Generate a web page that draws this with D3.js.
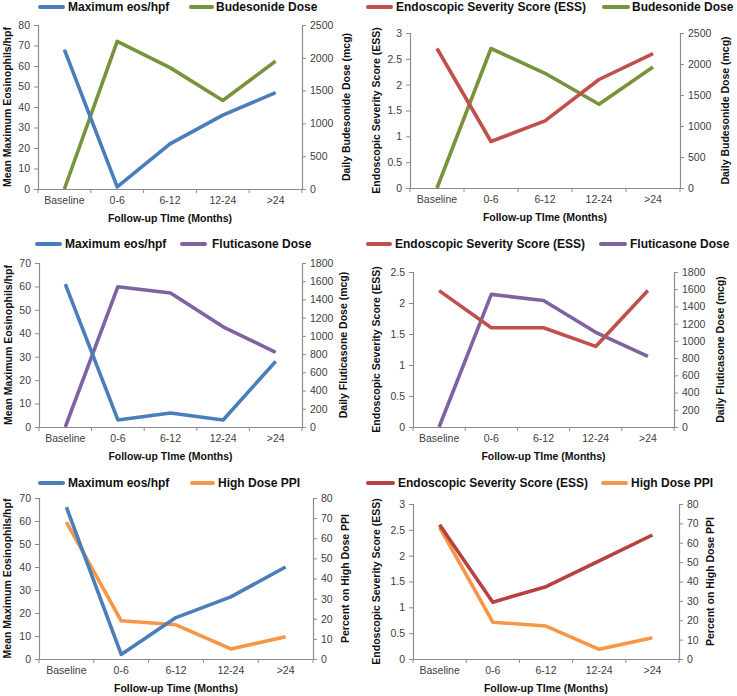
<!DOCTYPE html>
<html>
<head>
<meta charset="utf-8">
<script src="https://cdn.jsdelivr.net/npm/d3@7"></script>
<style>
  html, body { margin: 0; padding: 0; background: #ffffff; }
  svg { display: block; font-family: "Liberation Sans", Arial, sans-serif; }
</style>
</head>
<body>
<svg id="chart" width="737" height="696"></svg>
<script>
// ---------------- DATA ----------------
const categories = ["Baseline", "0-6", "6-12", "12-24", ">24"];

// Budesonide row
const eosBudesonide   = [68, 1, 22, 36, 47];
const budesonideDose  = [0, 2250, 1850, 1350, 1950];
const essBudesonide   = [2.7, 0.9, 1.3, 2.1, 2.6];

// Fluticasone row
const eosFluticasone  = [61, 3, 6, 3, 28];
const fluticasoneDose = [0, 1540, 1470, 1100, 820];
const essFluticasone  = [2.2, 1.6, 1.6, 1.3, 2.2];

// High dose PPI row
const eosPPI          = [66, 2, 18, 27, 40];
const ppiPercent      = [68, 19, 17, 5, 11];
const essPPI          = [2.6, 1.1, 1.4, 1.9, 2.4];

// Tick labels
const eosTicks80   = [0, 10, 20, 30, 40, 50, 60, 70, 80];
const eosTicks70   = [0, 10, 20, 30, 40, 50, 60, 70];
const essTicks3    = [0, 0.5, 1, 1.5, 2, 2.5, 3];
const essTicks25   = [0, 0.5, 1, 1.5, 2, 2.5];
const budTicks     = [0, 500, 1000, 1500, 2000, 2500];
const fluTicks     = [0, 200, 400, 600, 800, 1000, 1200, 1400, 1600, 1800];
const ppiTicks     = [0, 10, 20, 30, 40, 50, 60, 70, 80];

// Series names
const nameEos = "Maximum eos/hpf";
const nameEss = "Endoscopic Severity Score (ESS)";
const nameBud = "Budesonide Dose";
const nameFlu = "Fluticasone Dose";
const namePPI = "High Dose PPI";

// Axis titles
const titleEos = "Mean Maximum Eosinophils/hpf";
const titleEss = "Endoscopic Severity Score (ESS)";
const titleBud = "Daily Budesonide Dose (mcg)";
const titleFlu = "Daily Fluticasone Dose (mcg)";
const titlePPI = "Percent on High Dose PPI";
const xTitleA = "Follow-up TIme (Months)";
const xTitleB = "Follow-up Time (Months)";

// ---------------- STYLE ----------------
const C = {
  blue: "#4a7ebb",
  green: "#77933c",
  red: "#c0504d",
  darkred: "#b6413f",
  purple: "#7f63a1",
  orange: "#f79646",
  axis: "#8c8c8c",
  tick: "#404040"
};

const panels = [
  { box: {l: 38, r: 302, t: 25, b: 189}, left: eosBudesonide, right: budesonideDose,
    lTicks: eosTicks80, rTicks: budTicks, lColor: C.blue, rColor: C.green,
    lName: nameEos, rName: nameBud, lTitle: titleEos, rTitle: titleBud, xTitle: xTitleA,
    lTitleX: 7, rTitleX: 346, legendY: 7,
    leg: [{x1: 40, x2: 63, tx: 68}, {x1: 191, x2: 212, tx: 216}] },
  { box: {l: 410, r: 680, t: 33, b: 188}, left: essBudesonide, right: budesonideDose,
    lTicks: essTicks3, rTicks: budTicks, lColor: C.red, rColor: C.green,
    lName: nameEss, rName: nameBud, lTitle: titleEss, rTitle: titleBud, xTitle: xTitleA,
    lTitleX: 376, rTitleX: 725, legendY: 7,
    leg: [{x1: 368, x2: 391, tx: 396}, {x1: 604, x2: 628, tx: 632}] },
  { box: {l: 39, r: 302, t: 263, b: 427}, left: eosFluticasone, right: fluticasoneDose,
    lTicks: eosTicks70, rTicks: fluTicks, lColor: C.blue, rColor: C.purple,
    lName: nameEos, rName: nameFlu, lTitle: titleEos, rTitle: titleFlu, xTitle: xTitleA,
    lTitleX: 7.5, rTitleX: 343, legendY: 244,
    leg: [{x1: 37, x2: 60, tx: 65}, {x1: 182, x2: 205, tx: 212}] },
  { box: {l: 413, r: 674, t: 272, b: 427}, left: essFluticasone, right: fluticasoneDose,
    lTicks: essTicks25, rTicks: fluTicks, lColor: C.red, rColor: C.purple,
    lName: nameEss, rName: nameFlu, lTitle: titleEss, rTitle: titleFlu, xTitle: xTitleA,
    lTitleX: 376, rTitleX: 720, legendY: 244,
    leg: [{x1: 368, x2: 390, tx: 395}, {x1: 601, x2: 625, tx: 630}] },
  { box: {l: 39, r: 313, t: 498, b: 659}, left: eosPPI, right: ppiPercent,
    lTicks: eosTicks70, rTicks: ppiTicks, lColor: C.blue, rColor: C.orange,
    lName: nameEos, rName: namePPI, lTitle: titleEos, rTitle: titlePPI, xTitle: xTitleB,
    lTitleX: 7, rTitleX: 345, legendY: 483,
    leg: [{x1: 40, x2: 63, tx: 68}, {x1: 192, x2: 213, tx: 218}] },
  { box: {l: 413, r: 679, t: 504, b: 659}, left: essPPI, right: ppiPercent,
    lTicks: essTicks3, rTicks: ppiTicks, lColor: C.darkred, rColor: C.orange,
    lName: nameEss, rName: namePPI, lTitle: titleEss, rTitle: titlePPI, xTitle: xTitleA,
    lTitleX: 376, rTitleX: 710, legendY: 483,
    leg: [{x1: 368, x2: 393, tx: 398}, {x1: 603, x2: 626, tx: 631}] }
];

const svg = d3.select("#chart");

panels.forEach(p => {
  const g = svg.append("g");
  const {l, r, t, b} = p.box;

  const x = d3.scaleBand().domain(categories).range([l, r]);
  const yL = d3.scaleLinear().domain([0, d3.max(p.lTicks)]).range([b, t]);
  const yR = d3.scaleLinear().domain([0, d3.max(p.rTicks)]).range([b, t]);

  // x axis
  const xAxis = g.append("g").attr("transform", `translate(0,${b})`)
    .call(d3.axisBottom(x).tickSize(0).tickPadding(8));
  xAxis.select(".domain").attr("stroke", C.axis).attr("stroke-width", 1.2);
  xAxis.selectAll("text").attr("fill", C.tick).style("font-size", "10.5px")
    .style("font-family", "'Liberation Sans', Arial, sans-serif");
  // band boundary ticks
  const bounds = categories.map(c => x(c)).concat([x(categories[categories.length - 1]) + x.bandwidth()]);
  g.selectAll(".xb").data(bounds).enter().append("line")
    .attr("x1", d => d).attr("x2", d => d).attr("y1", b).attr("y2", b + 4)
    .attr("stroke", C.axis).attr("stroke-width", 1);

  // left axis
  const la = g.append("g").attr("transform", `translate(${l},0)`)
    .call(d3.axisLeft(yL).tickValues(p.lTicks).tickSize(4).tickPadding(4).tickFormat(d3.format("~g")));
  la.select(".domain").attr("stroke", C.axis).attr("stroke-width", 1.2);
  la.selectAll(".tick line").attr("stroke", C.axis);
  la.selectAll("text").attr("fill", C.tick).style("font-size", "10.5px");

  // right axis
  const ra = g.append("g").attr("transform", `translate(${r},0)`)
    .call(d3.axisRight(yR).tickValues(p.rTicks).tickSize(4).tickPadding(4).tickFormat(d3.format("~g")));
  ra.select(".domain").attr("stroke", C.axis).attr("stroke-width", 1.2);
  ra.selectAll(".tick line").attr("stroke", C.axis);
  ra.selectAll("text").attr("fill", C.tick).style("font-size", "10.5px");

  const cx = d => x(d) + x.bandwidth() / 2;

  // lines
  const lineL = d3.line().x((d, i) => cx(categories[i])).y(d => yL(d));
  const lineR = d3.line().x((d, i) => cx(categories[i])).y(d => yR(d));

  g.append("path").datum(p.right).attr("d", lineR)
    .attr("fill", "none").attr("stroke", p.rColor).attr("stroke-width", 3.6)
    .attr("stroke-linejoin", "round");
  g.append("path").datum(p.left).attr("d", lineL)
    .attr("fill", "none").attr("stroke", p.lColor).attr("stroke-width", 3.6)
    .attr("stroke-linejoin", "round");

  // axis titles
  const midY = (t + b) / 2;
  g.append("text").attr("transform", `translate(${p.lTitleX},${midY}) rotate(-90)`)
    .attr("text-anchor", "middle").attr("dominant-baseline", "central")
    .style("font-size", "10.5px").style("font-weight", "bold").attr("fill", "#111")
    .text(p.lTitle);
  g.append("text").attr("transform", `translate(${p.rTitleX},${midY}) rotate(-90)`)
    .attr("text-anchor", "middle").attr("dominant-baseline", "central")
    .style("font-size", "10.5px").style("font-weight", "bold").attr("fill", "#111")
    .text(p.rTitle);
  g.append("text").attr("x", (l + r) / 2).attr("y", b + 33)
    .attr("text-anchor", "middle")
    .style("font-size", "10.5px").style("font-weight", "bold").attr("fill", "#111")
    .text(p.xTitle);

  // legend
  const legItems = [{name: p.lName, color: p.lColor}, {name: p.rName, color: p.rColor}];
  legItems.forEach((it, i) => {
    const pos = p.leg[i];
    g.append("line").attr("x1", pos.x1).attr("x2", pos.x2)
      .attr("y1", p.legendY).attr("y2", p.legendY)
      .attr("stroke", it.color).attr("stroke-width", 4).attr("stroke-linecap", "round");
    g.append("text").attr("x", pos.tx).attr("y", p.legendY)
      .attr("dominant-baseline", "central")
      .style("font-size", "12px").style("font-weight", "bold").attr("fill", "#111")
      .text(it.name);
  });
});
</script>
</body>
</html>
